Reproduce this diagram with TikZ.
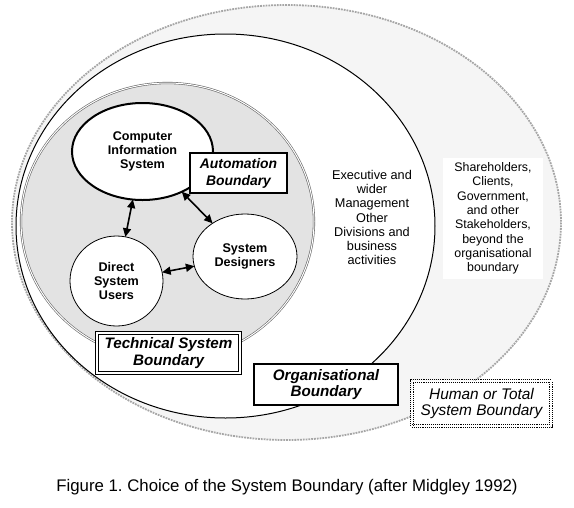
\documentclass[tikz,border=0pt]{standalone}
\usepackage{fontspec}
\setmainfont{Liberation Sans}
\usetikzlibrary{shapes.geometric,arrows.meta}
\frenchspacing

\begin{document}
\begin{tikzpicture}[x=1pt,y=-1pt,
  party/.style={ellipse,draw,fill=white,inner sep=0pt,outer sep=0pt,align=center,
    font=\fontsize{12.6}{14.3}\selectfont\bfseries},
  boundary box/.style={draw,fill=white,inner sep=0pt,outer sep=0pt,align=center,
    font=\fontsize{15.2}{16.5}\selectfont\bfseries\itshape},
  link/.style={line width=1.6pt,{Triangle[length=8.5pt,width=8pt]}-{Triangle[length=8.5pt,width=8pt]}}]
\useasboundingbox (0,0) rectangle (574,507);
\fill [gray!8] (286.5,222.5) ellipse [x radius=274.5, y radius=217.5];
\draw [gray!70, line width=1.8pt, densely dotted] (286.5,222.5) ellipse [x radius=274.5, y radius=217.5];
\draw [fill=white, line width=1pt] (225.5,226) ellipse [x radius=209.5, y radius=192];
\draw [gray!80!black, fill=gray!22, line width=0.6pt, double, double distance=1pt] (167.5,221.5) ellipse [x radius=146.5, y radius=138.5];
\node [party, line width=2pt, minimum width=141pt, minimum height=97pt] (cis) at (142.5,151.5) {Computer\\Information\\System};
\node [party, line width=0.8pt, minimum width=93pt, minimum height=90pt] (dsu) at (116.5,281) {Direct\\System\\Users};
\node [party, line width=0.8pt, minimum width=104pt, minimum height=85pt] (sd) at (245,256.5) {System\\Designers};
\draw [link] (cis) -- (dsu);
\draw [link] (cis) -- (sd);
\draw [link] (dsu) -- (sd);
\node [boundary box, line width=2.5pt, minimum width=97pt, minimum height=40pt,
  font=\fontsize{13.9}{17}\selectfont\bfseries\itshape] (automation) at (238.5,173) {Automation\\Boundary};
\node [boundary box, line width=0.9pt, double, double distance=1.4pt, minimum width=143pt, minimum height=40pt,
  font=\fontsize{15.2}{17}\selectfont\bfseries\itshape] (technical) at (168.5,353) {Technical System\\Boundary};
\node [boundary box, line width=1.6pt, minimum width=144pt, minimum height=41pt] (organisational) at (326,384.5) {Organisational\\Boundary};
\node [boundary box, line width=0.9pt, densely dotted, double, double distance=1.4pt, minimum width=139pt, minimum height=45pt,
  font=\fontsize{15.4}{16}\selectfont\itshape] (human) at (481.5,403.5) {Human or Total\\System Boundary};
\node [align=center, font=\fontsize{12.7}{14.2}\selectfont] (management) at (372,217.5)
  {Executive and\\wider\\Management\\Other\\Divisions and\\business\\activities};
\node [fill=white, minimum width=100pt, minimum height=121pt, align=center, font=\fontsize{12.4}{14.3}\selectfont] (stakeholders) at (493,218.5)
  {Shareholders,\\Clients,\\Government,\\and other\\Stakeholders,\\beyond the\\organisational\\boundary};
\node [font=\fontsize{16.8}{20}\selectfont] (caption) at (287,487) {Figure 1. Choice of the System Boundary (after Midgley 1992)};
\end{tikzpicture}
\end{document}
